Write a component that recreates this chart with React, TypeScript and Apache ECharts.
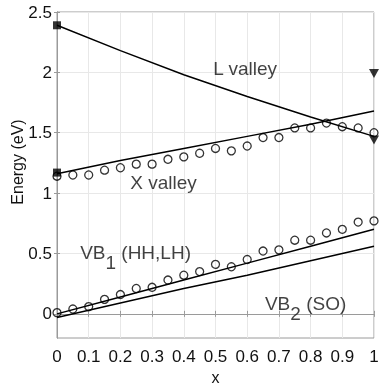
import React, { useEffect, useRef } from "react";
import * as echarts from "echarts";

// Composition x for the model lines
const lineX = [0, 0.2, 0.4, 0.6, 0.8, 1.0];
const lValley = [2.39, 2.18, 1.98, 1.8, 1.63, 1.47];
const xValley = [1.16, 1.27, 1.37, 1.47, 1.57, 1.68];
const vb1 = [0.0, 0.14, 0.28, 0.42, 0.56, 0.7];
const vb2 = [-0.03, 0.09, 0.21, 0.32, 0.44, 0.56];

// Calculated points (open circles)
const circleX = [0, 0.05, 0.1, 0.15, 0.2, 0.25, 0.3, 0.35, 0.4, 0.45, 0.5, 0.55, 0.6, 0.65, 0.7, 0.75, 0.8, 0.85, 0.9, 0.95, 1.0];
const xValleyCalc = [1.14, 1.15, 1.15, 1.19, 1.21, 1.24, 1.24, 1.28, 1.3, 1.33, 1.37, 1.35, 1.39, 1.46, 1.46, 1.54, 1.54, 1.58, 1.55, 1.54, 1.5];
const vb1Calc = [0.01, 0.04, 0.06, 0.12, 0.16, 0.21, 0.22, 0.28, 0.32, 0.35, 0.41, 0.39, 0.45, 0.52, 0.53, 0.61, 0.61, 0.67, 0.7, 0.76, 0.77];

// Experimental markers
const squareX = [0, 0];
const squareY = [2.39, 1.17];
const triangleX = [1, 1];
const triangleY = [1.99, 1.44];

// Axis ticks
const yTicks = [0, 0.5, 1, 1.5, 2, 2.5];

// Annotations
const annotationText = ["L valley", "X valley", "{a|VB}{s|1}{a| (HH,LH)}", "{a|VB}{s|2}{a| (SO)}"];
const annotationX = [0.493, 0.231, 0.073, 0.656];
const annotationY = [2.03, 1.085, 0.5, 0.085];

const pair = (xs: number[], ys: number[]) => xs.map((x, i) => [x, ys[i]]);

export default function App() {
  const ref = useRef<HTMLDivElement>(null);
  useEffect(() => {
    const chart = echarts.init(ref.current!, null, { renderer: "svg" });
    const font = "'Liberation Sans', Arial, sans-serif";
    const frame = "#9a9a9a";
    const tick = { show: true, inside: true, length: 3, lineStyle: { color: frame } };
    const axisLine = { show: true, lineStyle: { color: frame } };
    const lineSeries = (name: string, ys: number[]) => ({
      name,
      type: "line",
      data: pair(lineX, ys),
      symbol: "none",
      lineStyle: { color: "#000", width: 1.5 },
      z: 3,
    });
    chart.setOption({
      animation: false,
      grid: {
        left: 57,
        right: 5,
        top: 12,
        bottom: 47,
        show: true,
        borderColor: frame,
        borderWidth: 1,
        containLabel: false,
        outerBoundsMode: "none",
      },
      xAxis: [
        {
          type: "value",
          min: 0,
          max: 1,
          interval: 0.1,
          position: "bottom",
          name: "x",
          nameLocation: "middle",
          nameGap: 29,
          nameTextStyle: { fontSize: 16, color: "#111", fontFamily: font },
          axisLine,
          axisTick: tick,
          axisLabel: {
            margin: 10,
            fontSize: 17,
            color: "#111",
            fontFamily: font,
            formatter: (v: number) => (v === 0 ? "0" : v === 1 ? "1" : v.toFixed(1)),
          },
          splitLine: { show: true, lineStyle: { color: "#e8e8e8", width: 1 } },
        },
        {
          type: "value",
          min: 0,
          max: 1,
          interval: 0.1,
          position: "top",
          axisLine,
          axisTick: tick,
          axisLabel: { show: false },
          splitLine: { show: false },
        },
      ],
      yAxis: [
        {
          type: "value",
          min: -0.2,
          max: 2.5,
          position: "left",
          axisLine,
          axisTick: { ...tick, customValues: yTicks },
          axisLabel: {
            customValues: yTicks,
            margin: 5,
            fontSize: 17,
            color: "#111",
            fontFamily: font,
            formatter: (v: number) => String(v),
          },
          splitLine: { show: true, lineStyle: { color: "#e8e8e8", width: 1 } },
        },
        {
          type: "value",
          min: -0.2,
          max: 2.5,
          position: "right",
          axisLine,
          axisTick: { ...tick, customValues: yTicks },
          axisLabel: { show: false },
          splitLine: { show: false },
        },
      ],
      graphic: [
        {
          type: "text",
          x: 17,
          y: 162,
          rotation: Math.PI / 2,
          style: {
            text: "Energy (eV)",
            fontSize: 16,
            fontFamily: font,
            fill: "#111",
            align: "center",
            verticalAlign: "middle",
          },
        },
      ],
      series: [
        lineSeries("L valley", lValley),
        lineSeries("X valley", xValley),
        lineSeries("VB1", vb1),
        lineSeries("VB2", vb2),
        {
          name: "X valley calc",
          type: "scatter",
          data: pair(circleX, xValleyCalc),
          symbol: "circle",
          symbolSize: 8,
          itemStyle: { color: "rgba(0,0,0,0)", borderColor: "#000", borderWidth: 1.3 },
          z: 4,
        },
        {
          name: "VB1 calc",
          type: "scatter",
          data: pair(circleX, vb1Calc),
          symbol: "circle",
          symbolSize: 8,
          itemStyle: { color: "rgba(0,0,0,0)", borderColor: "#000", borderWidth: 1.3 },
          z: 4,
        },
        {
          name: "squares",
          type: "scatter",
          data: pair(squareX, squareY),
          symbol: "rect",
          symbolSize: 8,
          itemStyle: { color: "#000" },
          z: 5,
        },
        {
          name: "triangles",
          type: "scatter",
          data: pair(triangleX, triangleY),
          symbol: "triangle",
          symbolRotate: 180,
          symbolSize: [10, 9],
          itemStyle: { color: "#000" },
          z: 5,
        },
        {
          name: "annotations",
          type: "scatter",
          symbolSize: 0,
          silent: true,
          data: annotationText.map((t, i) => ({ name: t, value: [annotationX[i], annotationY[i]] })),
          label: {
            show: true,
            position: "right",
            distance: 0,
            formatter: "{b}",
            fontSize: 19,
            fontFamily: font,
            color: "#111",
            rich: {
              a: { fontSize: 19, fontFamily: font, color: "#111", verticalAlign: "top", lineHeight: 20 },
              s: { fontSize: 19, fontFamily: font, color: "#111", verticalAlign: "top", lineHeight: 20, padding: [10, 0, 0, 0] },
            },
          },
          z: 6,
        },
      ],
    });
    return () => chart.dispose();
  }, []);
  return <div ref={ref} style={{ position: "fixed", left: 0, top: 0, width: 379, height: 385 }} />;
}
